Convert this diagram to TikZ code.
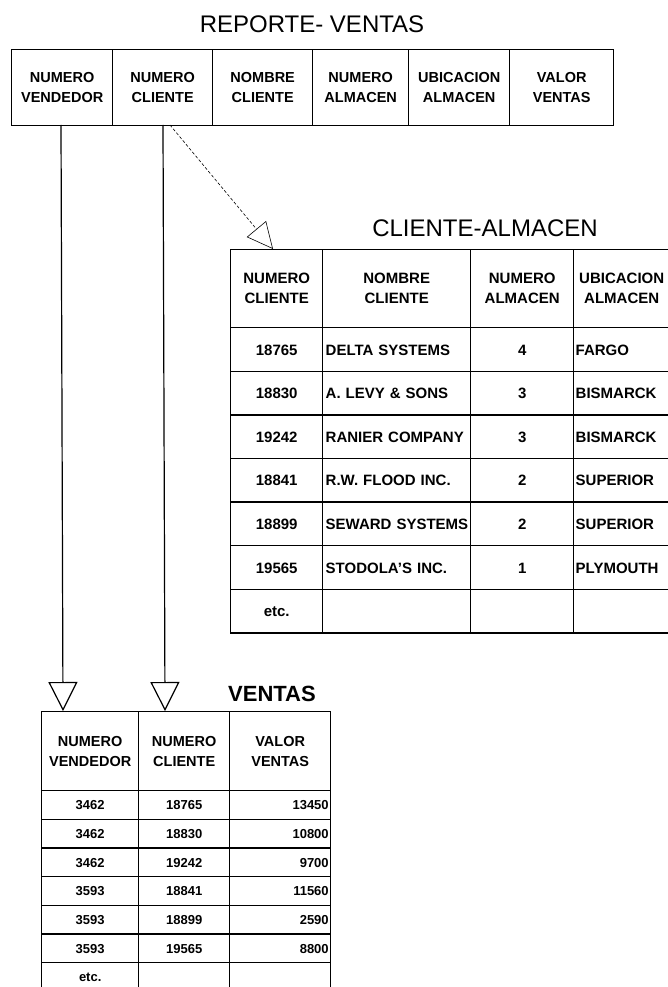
\documentclass[tikz,border=0pt]{standalone}
\usepackage{fontspec}
\setmainfont{Liberation Sans}
\usetikzlibrary{arrows.meta,positioning}

\begin{document}
\begin{tikzpicture}[x=1pt,y=-1pt,
	celda/.style={draw,line width=1.4pt,anchor=north west,inner sep=0pt,font=\fontsize{14.5}{20}\selectfont\bfseries},
	media/.style={celda,font=\fontsize{15}{20}\selectfont\bfseries},
	dato/.style={media,text height=11pt,text depth=0pt},
	chica/.style={celda,font=\fontsize{13}{16}\selectfont\bfseries,text height=9.5pt,text depth=0pt},
	titulo/.style={font=\fontsize{24}{28}\selectfont},
	flecha/.style={line width=1.2pt,-{Triangle[open,length=29pt,width=29pt]}},
	guia/.style={line width=0.6pt,densely dashed,-{Triangle[open,length=26pt,width=25pt]}}]
	\useasboundingbox (0,0) rectangle (667,987);
	
	% REPORTE-VENTAS
	\node[titulo] (tReporte) at (312,24) {REPORTE- VENTAS};
	\foreach \x/\w/\t [count=\n] in {11/101/{NUMERO\\VENDEDOR},112/100/{NUMERO\\CLIENTE},212/100/{NOMBRE\\CLIENTE},312/96/{NUMERO\\ALMACEN},408/101/{UBICACION\\ALMACEN},509/104/{VALOR\\VENTAS}}
		\node[celda,minimum width=\w,minimum height=76,align=center] (R\n) at (\x,49) {\t};
	
	% CLIENTE-ALMACEN
	\node[titulo] (tCliente) at (485,228) {CLIENTE-ALMACEN};
	\foreach \x/\w/\t [count=\n] in {230/92/{NUMERO\\CLIENTE},322/148/{NOMBRE\\CLIENTE},470/103/{NUMERO\\ALMACEN},573/96/{UBICACION\\ALMACEN}}
		\node[media,minimum width=\w,minimum height=78,align=center] (C\n) at (\x,249) {\t};
	\foreach \num/\nom/\alm/\ubi [count=\fila] in {18765/DELTA SYSTEMS/4/FARGO,18830/A. LEVY \& SONS/3/BISMARCK,19242/RANIER COMPANY/3/BISMARCK,18841/R.W. FLOOD INC./2/SUPERIOR,18899/SEWARD SYSTEMS/2/SUPERIOR,19565/STODOLA'S INC./1/PLYMOUTH,etc.///}{
		\pgfmathsetmacro\yy{327+(\fila-1)*43.6}
		\node[dato,minimum width=92,minimum height=43.6] (C\fila a) at (230,\yy) {\num};
		\node[dato,minimum height=43.6,text width=142,inner xsep=3,align=left] (C\fila b) at (322,\yy) {\mbox{\nom}};
		\node[dato,minimum width=103,minimum height=43.6] (C\fila c) at (470,\yy) {\alm};
		\node[dato,minimum height=43.6,text width=92,inner xsep=2,align=left] (C\fila d) at (573,\yy) {\mbox{\ubi}};
	}
	
	% VENTAS
	\node[titulo,font=\fontsize{22}{26}\selectfont\bfseries] (tVentas) at (272,694) {VENTAS};
	\foreach \x/\w/\t [count=\n] in {41/97/{NUMERO\\VENDEDOR},138/91/{NUMERO\\CLIENTE},229/101/{VALOR\\VENTAS}}
		\node[celda,minimum width=\w,minimum height=79,align=center] (V\n) at (\x,711) {\t};
	\foreach \ven/\cli/\val [count=\fila] in {3462/18765/13450,3462/18830/10800,3462/19242/9700,3593/18841/11560,3593/18899/2590,3593/19565/8800,etc.//}{
		\pgfmathsetmacro\yy{790+(\fila-1)*28.67}
		\node[chica,minimum width=97,minimum height=28.67] (V\fila a) at (41,\yy) {\ven};
		\node[chica,minimum width=91,minimum height=28.67] (V\fila b) at (138,\yy) {\cli};
		\node[chica,minimum height=28.67,text width=97,inner xsep=2,align=right] (V\fila c) at (229,\yy) {\val};
	}
	
	% flechas
	\coordinate (a1) at (61,125);
	\coordinate (b1) at (63,711);
	\coordinate (a2) at (163,125);
	\coordinate (b2) at (165,711);
	\coordinate (a3) at (170,125);
	\coordinate (b3) at (273,249);
	\draw[flecha] (a1) -- (b1);
	\draw[flecha] (a2) -- (b2);
	\draw[guia] (a3) -- (b3);
\end{tikzpicture}
\end{document}
